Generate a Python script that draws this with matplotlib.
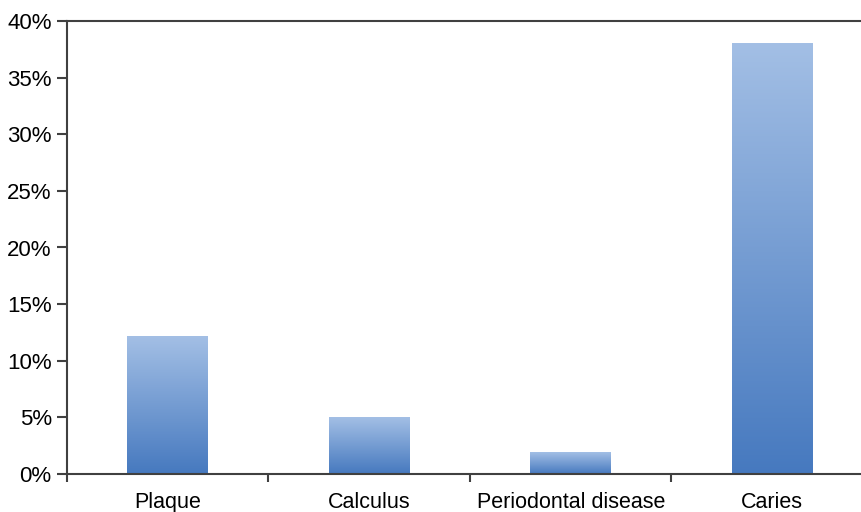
import matplotlib
matplotlib.use("Agg")
import matplotlib.pyplot as plt
import numpy as np
from matplotlib.colors import LinearSegmentedColormap

categories = ["Plaque", "Calculus", "Periodontal disease", "Caries"]
values = [12.1, 5.0, 1.9, 38.0]
yticks = [0, 5, 10, 15, 20, 25, 30, 35, 40]

plt.rcParams['font.family'] = ['Liberation Sans', 'DejaVu Sans']
fig = plt.figure(figsize=(8.62, 5.12), dpi=100)
ax = fig.add_axes([67/862, 1-474/512, 806/862, 453/512])

cmap = LinearSegmentedColormap.from_list("g", ["#4679bf", "#a3bfe5"])
x = np.arange(len(categories))
width = 0.4
bars = ax.bar(x, values, width=width, color='none', edgecolor='none')
grad = np.linspace(0, 1, 256).reshape(-1, 1)
for b in bars:
    x0 = b.get_x(); w = b.get_width(); h = b.get_height()
    ax.imshow(grad, extent=[x0, x0 + w, 0, h], origin='lower', aspect='auto',
              cmap=cmap, zorder=2)

ax.set_xlim(-0.5, len(categories) - 0.5)
ax.set_ylim(0, 40)
ax.set_yticks(yticks)
ax.set_yticklabels([f"{v}%" for v in yticks])
ax.set_xticks(x)
ax.set_xticklabels(categories)
ax.set_xticks(np.arange(len(categories) + 1) - 0.5, minor=True)
ax.tick_params(axis='x', which='major', length=0, pad=13, labelsize=15.5)
ax.tick_params(axis='x', which='minor', length=6, width=1.5, color='#404040')
ax.tick_params(axis='y', length=7, width=1.5, color='#404040', labelsize=16, pad=4)
for s in ['left', 'bottom', 'top']:
    ax.spines[s].set_color('#404040')
    ax.spines[s].set_linewidth(1.5)
ax.spines['right'].set_visible(False)
ax.spines['bottom'].set_zorder(5)

fig.savefig("out.png", dpi=100)
